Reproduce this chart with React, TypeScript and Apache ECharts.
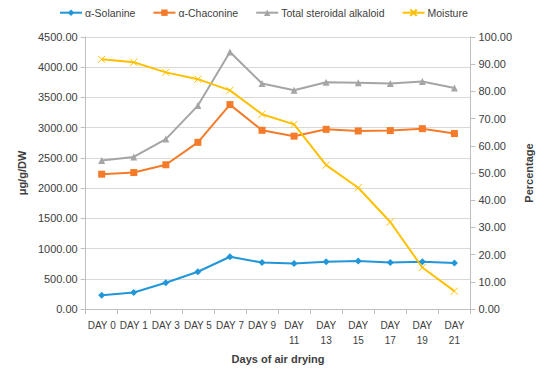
import React, { useEffect, useRef } from "react";
import * as echarts from "echarts";

const categories = ["DAY 0", "DAY 1", "DAY 3", "DAY 5", "DAY 7", "DAY 9", "DAY 11", "DAY 13", "DAY 15", "DAY 17", "DAY 19", "DAY 21"];
const solanine = [231, 274, 435, 618, 866, 769, 753, 785, 796, 769, 785, 763];
const chaconine = [2231, 2258, 2387, 2758, 3382, 2957, 2860, 2973, 2946, 2952, 2984, 2903];
const totalAlkaloid = [2457, 2516, 2812, 3366, 4253, 3731, 3618, 3753, 3742, 3731, 3763, 3656];
const moisture = [91.8, 90.7, 87.0, 84.5, 80.4, 71.6, 67.9, 52.9, 44.6, 32.0, 15.3, 6.6];

const FONT = "'Liberation Sans', Arial, sans-serif";
const TXT = "#404040";

export default function App() {
  const ref = useRef<HTMLDivElement>(null);
  useEffect(() => {
    if (!ref.current) return;
    const chart = echarts.init(ref.current, undefined, { renderer: "svg" });
    const axisLine = { show: true, lineStyle: { color: "#bfbfbf", width: 1 } };
    const axisTick = { show: true, length: 5, lineStyle: { color: "#bfbfbf" } };
    chart.setOption({
      animation: false,
      textStyle: { fontFamily: FONT },
      legend: {
        top: -6,
        left: 46,
        itemWidth: 22,
        itemHeight: 8,
        itemGap: 17,
        textStyle: { fontSize: 10.5, color: TXT, fontFamily: FONT, padding: [0, 0, 0, -2] },
        data: ["α-Solanine", "α-Chaconine", "Total steroidal alkaloid", "Moisture"],
      },
      grid: { left: 66, right: 59, top: 29, bottom: 53 },
      xAxis: {
        type: "category",
        data: categories,
        boundaryGap: true,
        name: "Days of air drying",
        nameLocation: "middle",
        nameGap: 43,
        nameTextStyle: { fontSize: 11, fontWeight: "bold", color: TXT, fontFamily: FONT },
        axisLine,
        axisTick: { ...axisTick, alignWithLabel: false },
        axisLabel: {
          interval: 0,
          fontSize: 10,
          color: TXT,
          lineHeight: 15,
          margin: 9,
          fontFamily: FONT,
          formatter: (v: string) => (v.length > 5 ? v.replace(" ", "\n") : v),
        },
      },
      yAxis: [
        {
          type: "value",
          min: 0,
          max: 4500,
          interval: 500,
          name: "μg/g/DW",
          nameLocation: "middle",
          nameGap: 55,
          nameRotate: 90,
          nameTextStyle: { fontSize: 11, fontWeight: "bold", color: TXT, fontFamily: FONT },
          axisLine,
          axisTick,
          axisLabel: { fontSize: 11, color: TXT, fontFamily: FONT, margin: 8, formatter: (v: number) => v.toFixed(2) },
          splitLine: { show: true, lineStyle: { color: "#d9d9d9" } },
        },
        {
          type: "value",
          min: 0,
          max: 100,
          interval: 10,
          name: "Percentage",
          nameLocation: "middle",
          nameGap: 51,
          nameRotate: 90,
          nameTextStyle: { fontSize: 11, fontWeight: "bold", color: TXT, fontFamily: FONT },
          axisLine,
          axisTick,
          axisLabel: { fontSize: 11, color: TXT, fontFamily: FONT, margin: 8, formatter: (v: number) => v.toFixed(2) },
          splitLine: { show: false },
        },
      ],
      series: [
        {
          name: "α-Solanine",
          type: "line",
          data: solanine,
          symbol: "diamond",
          symbolSize: 7,
          itemStyle: { color: "#2196D8" },
          lineStyle: { color: "#2196D8", width: 2 },
        },
        {
          name: "α-Chaconine",
          type: "line",
          data: chaconine,
          symbol: "rect",
          symbolSize: 7,
          itemStyle: { color: "#F47B2A" },
          lineStyle: { color: "#F47B2A", width: 2 },
        },
        {
          name: "Total steroidal alkaloid",
          type: "line",
          data: totalAlkaloid,
          symbol: "triangle",
          symbolSize: 7,
          itemStyle: { color: "#A5A5A5" },
          lineStyle: { color: "#A5A5A5", width: 2 },
        },
        {
          name: "Moisture",
          type: "line",
          yAxisIndex: 1,
          data: moisture,
          symbol: "path://M0,0L10,10M10,0L0,10",
          symbolSize: 7,
          itemStyle: { color: "none", borderColor: "#FFC000", borderWidth: 1 },
          lineStyle: { color: "#FFC000", width: 2 },
        },
      ],
    });
    return () => chart.dispose();
  }, []);
  return <div ref={ref} style={{ width: 534, height: 361 }} />;
}
